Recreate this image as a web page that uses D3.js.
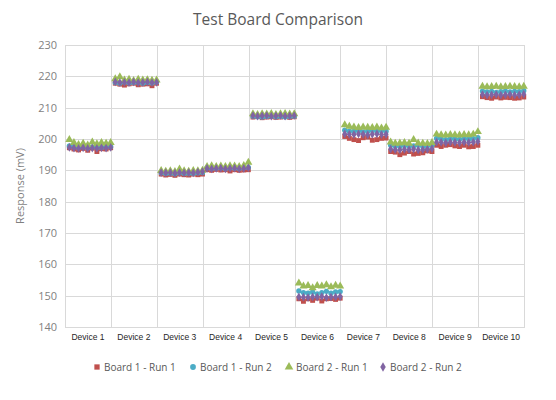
<!DOCTYPE html>
<meta charset="utf-8">
<title>Test Board Comparison</title>
<style>
    body {
        margin: 0;
        background: #fff;
        font-family: "Open Sans", sans-serif;
    }

    .grid line {
        stroke: #d9d9d9;
        stroke-width: 1;
        shape-rendering: crispEdges;
    }

    .axis path,
    .axis line {
        fill: none;
        stroke: #d9d9d9;
        shape-rendering: crispEdges;
    }
</style>

<body>
    <div id="chart"></div>
    <script src="https://d3js.org/d3.v7.min.js"></script>

    <script>
        var devices = ["Device 1", "Device 2", "Device 3", "Device 4", "Device 5",
            "Device 6", "Device 7", "Device 8", "Device 9", "Device 10"];

        var yTicks = [140, 150, 160, 170, 180, 190, 200, 210, 220, 230];

        var seriesNames = ["Board 1 - Run 1", "Board 1 - Run 2", "Board 2 - Run 1", "Board 2 - Run 2"];

        // ten readings per device, one row per device
        var board1Run1 = [
            [197.2, 196.8, 196.5, 197.0, 196.4, 197.1, 196.0, 196.9, 196.8, 197.2],
            [217.8, 217.5, 217.2, 217.6, 217.8, 217.3, 217.5, 217.6, 217.0, 217.8],
            [188.8, 188.5, 188.7, 188.4, 188.8, 188.6, 188.5, 188.8, 188.6, 188.8],
            [190.2, 190.0, 190.3, 190.1, 190.2, 189.8, 190.2, 190.0, 190.1, 190.2],
            [207.0, 207.2, 206.8, 207.0, 207.1, 206.9, 207.0, 207.2, 206.9, 207.1],
            [149.0, 148.2, 149.0, 148.5, 149.2, 148.3, 149.0, 149.1, 148.8, 149.2],
            [200.8, 200.2, 199.8, 199.5, 200.4, 200.6, 199.6, 199.8, 200.2, 200.3],
            [196.0, 195.8, 195.0, 195.5, 196.0, 195.2, 195.4, 195.6, 196.2, 196.0],
            [198.0, 197.6, 198.0, 198.2, 197.8, 197.6, 198.0, 197.5, 197.6, 198.0],
            [213.5, 213.2, 213.0, 213.4, 213.1, 213.3, 213.2, 213.0, 213.1, 213.4]
        ];

        var board1Run2 = [
            [197.8, 197.5, 197.3, 197.6, 197.2, 197.5, 197.4, 197.3, 197.6, 197.5],
            [218.0, 217.8, 218.2, 217.9, 218.0, 218.1, 217.8, 218.0, 217.9, 218.2],
            [189.2, 189.0, 189.1, 188.9, 189.2, 189.0, 189.1, 189.0, 189.2, 189.3],
            [190.8, 190.6, 190.7, 190.8, 190.5, 190.8, 190.7, 190.6, 190.8, 190.9],
            [207.3, 207.1, 207.0, 207.2, 207.3, 207.1, 207.2, 207.0, 207.2, 207.3],
            [151.5, 151.0, 150.8, 151.2, 150.6, 151.0, 151.4, 150.8, 151.2, 151.3],
            [202.8, 202.5, 202.4, 202.6, 202.3, 202.5, 202.7, 202.4, 202.6, 202.5],
            [198.0, 197.8, 197.6, 197.9, 197.7, 197.8, 198.0, 197.6, 197.8, 198.0],
            [200.2, 200.0, 199.8, 200.1, 200.0, 199.9, 200.2, 200.0, 200.1, 200.4],
            [215.3, 215.0, 215.2, 214.9, 215.1, 215.3, 215.0, 215.2, 215.1, 215.4]
        ];

        var board2Run1 = [
            [199.8, 198.8, 198.2, 198.6, 198.0, 199.0, 198.4, 198.8, 198.6, 198.8],
            [219.2, 219.8, 218.8, 219.0, 218.6, 219.0, 218.8, 218.9, 218.7, 218.8],
            [189.9, 189.7, 189.8, 189.6, 190.4, 189.8, 189.7, 189.9, 189.8, 190.0],
            [191.2, 191.4, 191.2, 191.3, 191.2, 191.4, 191.3, 191.2, 191.5, 192.5],
            [208.0, 207.8, 208.0, 207.9, 208.1, 207.8, 208.0, 208.1, 207.9, 208.0],
            [154.0, 153.0, 153.2, 152.5, 153.2, 153.0, 153.4, 152.8, 153.3, 153.0],
            [204.5, 204.0, 203.8, 203.6, 203.8, 203.7, 203.6, 203.8, 203.5, 203.7],
            [199.0, 198.6, 198.7, 198.8, 198.6, 199.8, 198.7, 198.6, 198.5, 198.8],
            [201.5, 201.3, 201.2, 201.4, 201.3, 201.2, 201.4, 201.3, 201.5, 202.3],
            [216.8, 216.6, 216.7, 216.8, 216.6, 216.7, 216.8, 216.7, 216.6, 216.8]
        ];

        var board2Run2 = [
            [197.3, 197.1, 197.0, 197.2, 197.0, 197.1, 197.0, 197.2, 197.1, 197.3],
            [218.2, 218.0, 218.1, 218.0, 218.2, 218.0, 218.1, 218.2, 218.0, 218.1],
            [189.3, 189.2, 189.3, 189.1, 189.3, 189.2, 189.3, 189.2, 189.4, 189.6],
            [190.6, 190.5, 190.6, 190.7, 190.5, 190.6, 190.7, 190.5, 190.6, 190.8],
            [207.5, 207.3, 207.4, 207.5, 207.3, 207.4, 207.5, 207.3, 207.4, 207.5],
            [149.6, 149.5, 149.4, 149.6, 149.5, 149.7, 149.4, 149.5, 149.6, 149.7],
            [201.6, 201.5, 201.4, 201.6, 201.5, 201.3, 201.5, 201.6, 201.4, 201.5],
            [196.8, 196.6, 196.5, 196.7, 196.6, 196.8, 196.5, 196.6, 196.7, 196.9],
            [199.0, 198.9, 198.8, 199.0, 198.9, 198.8, 199.0, 198.9, 199.0, 199.2],
            [214.2, 214.0, 214.1, 214.2, 214.0, 214.1, 214.2, 214.0, 214.1, 214.3]
        ];

        var width = 556,
            height = 400,
            margin = { top: 45, right: 32, bottom: 73, left: 65 };

        var colors = ["#c0504d", "#4bacc6", "#9bbb59", "#8064a2"];
        var symbols = [d3.symbolSquare, d3.symbolCircle, d3.symbolTriangle, d3.symbolDiamond];
        var symSizes = [24, 22, 28, 22];
        var allSeries = [board1Run1, board1Run2, board2Run1, board2Run2];

        var svg = d3.select("#chart")
            .append("svg")
            .attr("width", width)
            .attr("height", height);

        var x = d3.scaleBand()
            .domain(devices)
            .range([margin.left, width - margin.right])
            .padding(0);

        var perDevice = board1Run1[0].length;
        var xPoint = d3.scaleLinear()
            .domain([0, devices.length * perDevice])
            .range([margin.left, width - margin.right]);

        var y = d3.scaleLinear()
            .domain([140, 230])
            .range([height - margin.bottom, margin.top]);

        // horizontal gridlines
        svg.append("g")
            .attr("class", "grid")
            .selectAll("line")
            .data(yTicks.slice(1))
            .enter().append("line")
            .attr("x1", margin.left)
            .attr("x2", width - margin.right)
            .attr("y1", d => Math.round(y(d)) + 0.5)
            .attr("y2", d => Math.round(y(d)) + 0.5);

        // vertical gridlines at device boundaries
        svg.append("g")
            .attr("class", "grid")
            .selectAll("line")
            .data(devices)
            .enter().append("line")
            .attr("x1", d => Math.round(x(d) + x.bandwidth()) + 0.5)
            .attr("x2", d => Math.round(x(d) + x.bandwidth()) + 0.5)
            .attr("y1", margin.top)
            .attr("y2", height - margin.bottom);

        // Y axis
        var yAxis = svg.append("g")
            .attr("class", "axis")
            .attr("transform", `translate(${margin.left},0)`)
            .call(d3.axisLeft(y).tickValues(yTicks).tickSize(0).tickPadding(8));
        yAxis.select(".domain").attr("stroke", "#d9d9d9");
        yAxis.selectAll("text")
            .style("font-family", "'Open Sans', sans-serif")
            .style("font-size", "11px")
            .style("fill", "#7f7f7f");

        // X axis
        var xAxis = svg.append("g")
            .attr("class", "axis")
            .attr("transform", `translate(0,${height - margin.bottom})`)
            .call(d3.axisBottom(x).tickSize(0).tickPadding(7).tickSizeOuter(0));
        xAxis.select(".domain").attr("stroke", "#bfbfbf");
        xAxis.selectAll("text")
            .style("font-family", "'Liberation Sans', Arial, sans-serif")
            .style("font-size", "8.5px")
            .style("fill", "#262626");

        // markers
        allSeries.forEach(function(series, s) {
            var pts = [];
            series.forEach(function(row, di) {
                row.forEach(function(v, j) {
                    pts.push({ idx: di * perDevice + j + 0.95, value: v });
                });
            });
            svg.append("g")
                .selectAll("path")
                .data(pts)
                .enter().append("path")
                .attr("transform", d => `translate(${xPoint(d.idx)},${y(d.value)})`)
                .attr("d", d3.symbol().type(symbols[s]).size(symSizes[s]))
                .style("fill", colors[s]);
        });

        // title
        svg.append("text")
            .attr("x", width / 2)
            .attr("y", 25)
            .style("text-anchor", "middle")
            .style("font-size", "15.5px")
            .style("fill", "#595959")
            .text("Test Board Comparison");

        // y axis label
        svg.append("text")
            .attr("transform", "rotate(-90)")
            .attr("x", -(margin.top + (height - margin.bottom - margin.top) / 2))
            .attr("y", 24)
            .style("text-anchor", "middle")
            .style("font-size", "11px")
            .style("fill", "#7f7f7f")
            .text("Response (mV)");

        // legend
        var legendX = [97, 193, 289, 383];
        var legend = svg.append("g")
            .selectAll("g")
            .data(seriesNames)
            .enter().append("g")
            .attr("transform", (d, i) => `translate(${legendX[i]},367)`);
        legend.append("path")
            .attr("d", (d, i) => d3.symbol().type(symbols[i]).size(symSizes[i] + 4)())
            .style("fill", (d, i) => colors[i]);
        legend.append("text")
            .attr("x", 7)
            .attr("y", 0)
            .attr("dy", "0.35em")
            .style("font-size", "10px")
            .style("fill", "#595959")
            .text(d => d);
    </script>
</body>
